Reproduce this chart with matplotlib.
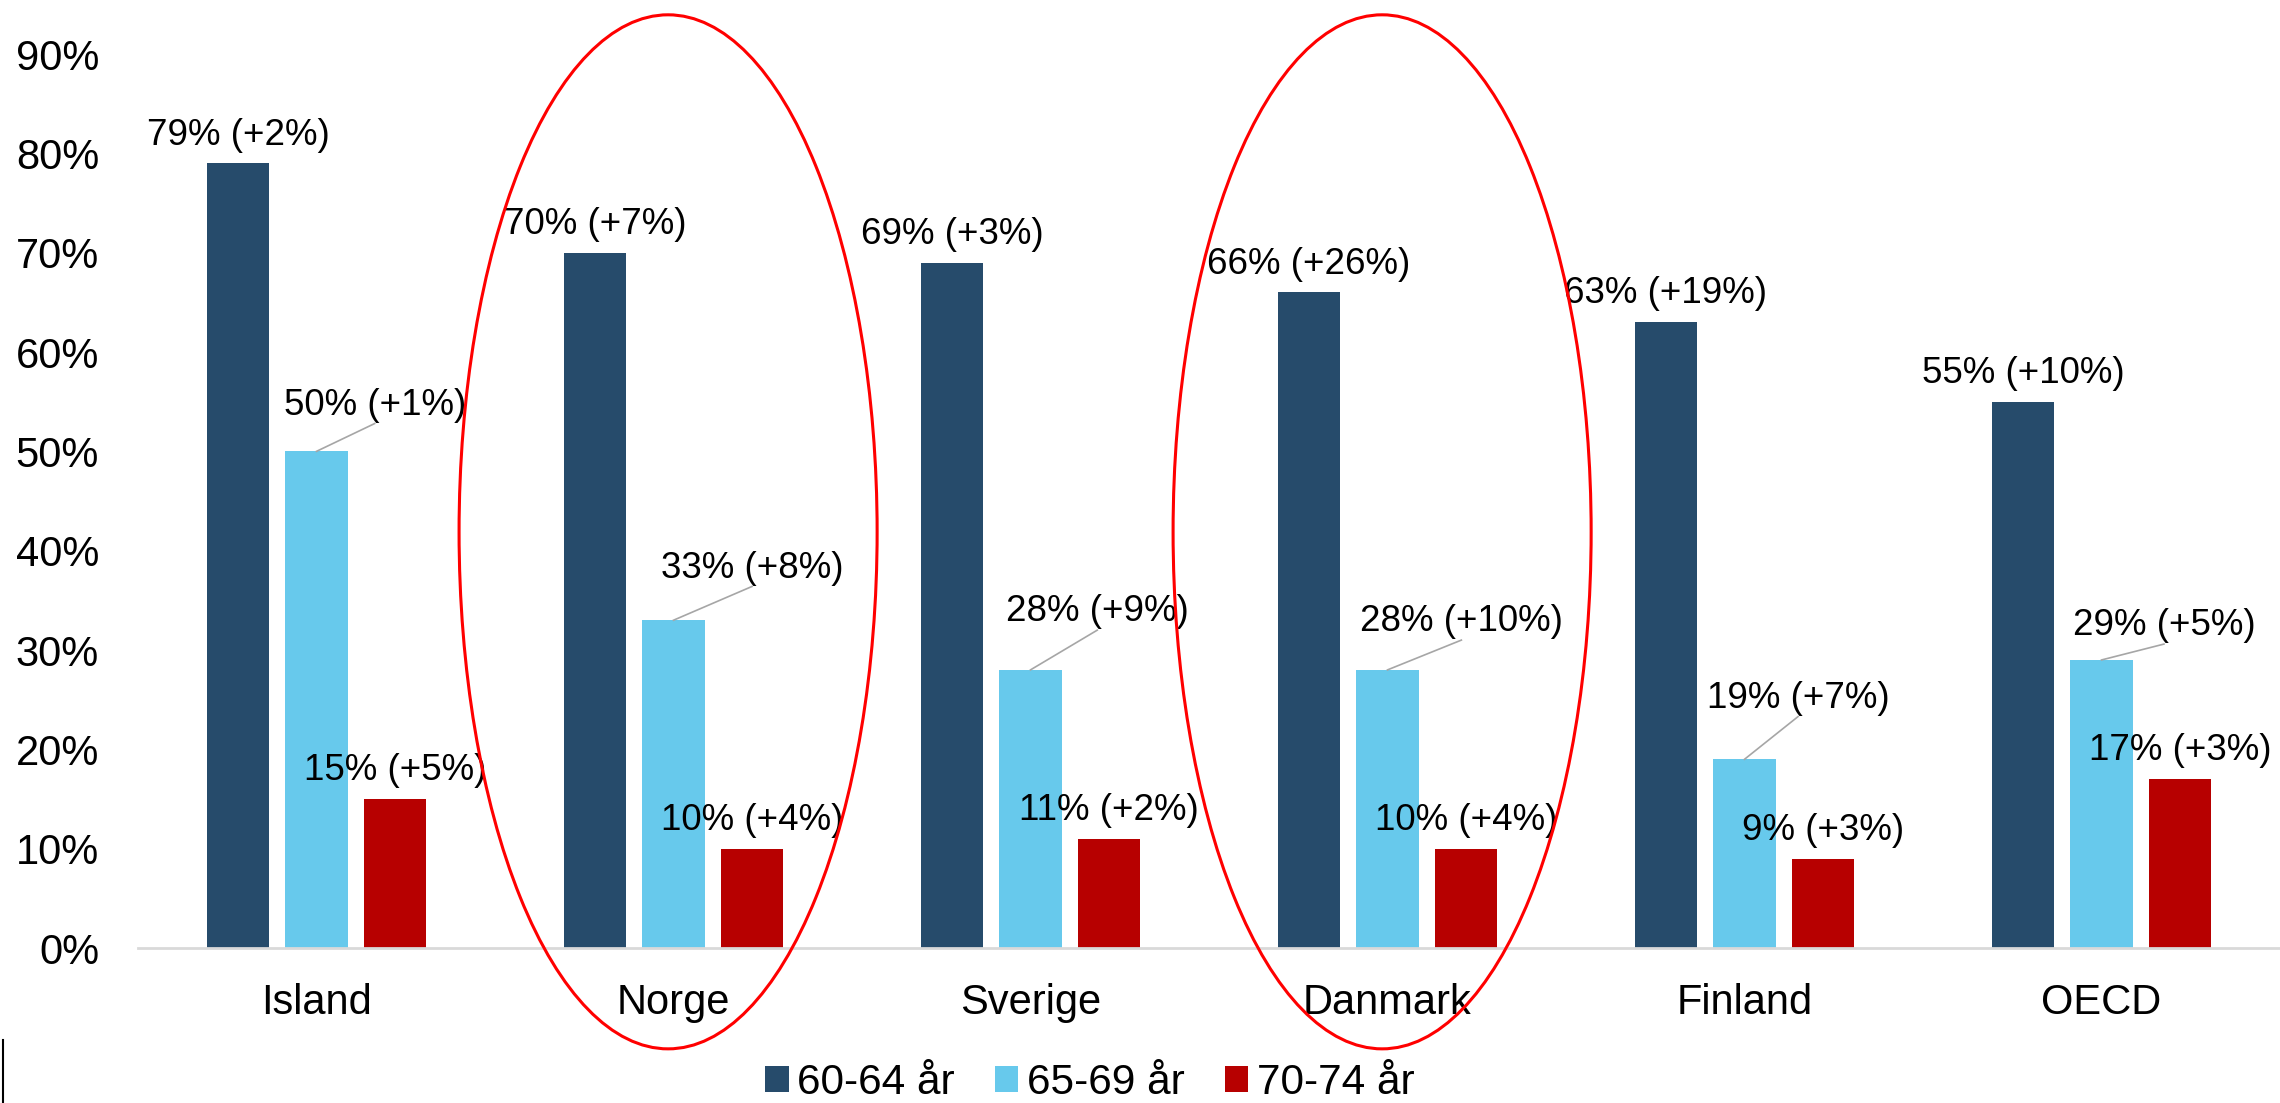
import matplotlib
matplotlib.use("Agg")
import matplotlib.pyplot as plt
from matplotlib.patches import Ellipse, Patch
from matplotlib.lines import Line2D
import numpy as np

countries = ["Island", "Norge", "Sverige", "Danmark", "Finland", "OECD"]
age_groups = ["60-64 år", "65-69 år", "70-74 år"]

# employment rate (%) per age group and change in percentage points
rate_60_64 = [79, 70, 69, 66, 63, 55]
rate_65_69 = [50, 33, 28, 28, 19, 29]
rate_70_74 = [15, 10, 11, 10, 9, 17]
chg_60_64 = [2, 7, 3, 26, 19, 10]
chg_65_69 = [1, 8, 9, 10, 7, 5]
chg_70_74 = [5, 4, 2, 4, 3, 3]

highlighted = ["Norge", "Danmark"]

colors = ["#264B6B", "#67C9EC", "#B70000"]

# labels of the middle series sit up and to the right, joined by a leader line
leader_dx = [0.163, 0.22, 0.187, 0.207, 0.15, 0.175]
leader_dy = [3.7, 4.3, 4.9, 3.9, 5.2, 2.5]

plt.rcParams["font.family"] = ["Liberation Sans", "DejaVu Sans"]

fig = plt.figure(figsize=(22.8, 11.03), dpi=100)
ax = fig.add_axes([0.0605, 0.1405, 0.9395, 0.8105])

x = np.arange(len(countries))
step = 0.22
width = 0.175
series = [(rate_60_64, chg_60_64), (rate_65_69, chg_65_69), (rate_70_74, chg_70_74)]

for k, (vals, chg) in enumerate(series):
    xs = x + (k - 1) * step
    ax.bar(xs, vals, width=width, color=colors[k], zorder=2)
    for i, (xi, v, c) in enumerate(zip(xs, vals, chg)):
        label = f"{v}% (+{c}%)"
        if k == 1:
            lx, ly = xi + leader_dx[i], v + leader_dy[i]
            ax.plot([xi, lx], [v, ly - 0.9], color="#A6A6A6", lw=1.2, zorder=3)
            ax.text(lx, ly, label, ha="center", va="baseline", fontsize=26.5)
        else:
            ax.annotate(label, (xi, v), xytext=(0, 13.5), textcoords="offset points",
                        ha="center", va="baseline", fontsize=26.5)

# red rings around the highlighted countries
for name in highlighted:
    i = countries.index(name)
    ax.add_patch(Ellipse((i - 0.015, 41.9), 1.171, 104.1, fill=False,
                         edgecolor="#FF0000", lw=2.2, clip_on=False, zorder=4))

ax.set_xlim(-0.5, 5.5)
ax.set_ylim(0, 90)
ax.set_yticks(range(0, 91, 10))
ax.set_yticklabels([f"{t}%" for t in range(0, 91, 10)], fontsize=30)
ax.set_xticks(x)
ax.set_xticklabels(countries, fontsize=30)
ax.tick_params(axis="y", length=0, pad=28)
ax.tick_params(axis="x", length=0, pad=25)
for side in ["top", "right", "left"]:
    ax.spines[side].set_visible(False)
ax.spines["bottom"].set_color("#D9D9D9")
ax.spines["bottom"].set_linewidth(2)

handles = [Patch(facecolor=c, edgecolor="none") for c in colors]
fig.legend(handles, age_groups, loc="center", bbox_to_anchor=(0.478, 0.018),
           ncol=3, frameon=False, fontsize=30.5, handlelength=0.55, handleheight=0.55,
           handletextpad=0.2, columnspacing=0.95, borderpad=0.1)

fig.add_artist(Line2D([2.5 / 2280, 2.5 / 2280], [0, 63 / 1103], color="black", lw=1.5))

fig.savefig("out.png", dpi=100)
